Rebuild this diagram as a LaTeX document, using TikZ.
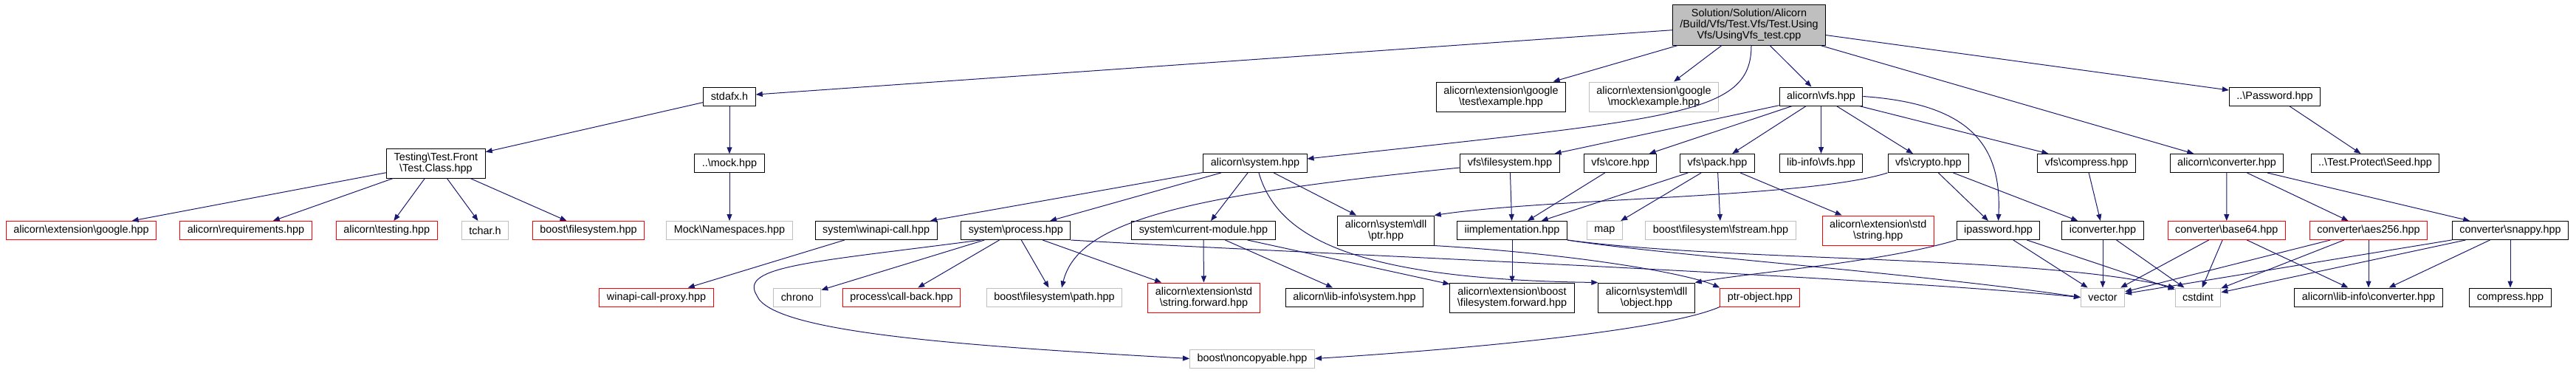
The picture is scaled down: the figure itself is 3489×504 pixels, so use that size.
\documentclass[tikz,border=0pt]{standalone}
\usepackage{fontspec}
\setmainfont{Liberation Sans}
\usetikzlibrary{arrows.meta}
\definecolor{edgeblue}{HTML}{191970}
\definecolor{boxgray}{HTML}{BFBFBF}
\newcommand{\bsl}{\textbackslash}
\tikzset{
  hdr/.style ={draw=black,line width=1pt,inner xsep=10pt,inner ysep=2pt,minimum height=25pt,
               align=center,font=\fontsize{14.4}{15}\selectfont},
  sys/.style ={hdr,draw=boxgray},
  cut/.style ={hdr,draw=red},
  src/.style ={hdr,fill=boxgray,minimum height=55pt},
  tall/.style={minimum height=40pt},
  inc/.style ={draw=edgeblue,line width=1pt,-{Triangle[length=9pt,width=7pt]}},
}

\begin{document}
\begin{tikzpicture}[x=1pt,y=-1pt]
  \useasboundingbox (0,0) rectangle (3489,504);

  \node[src] (root) at (2369,33.5) {Solution/Solution/Alicorn\\/Build/Vfs/Test.Vfs/Test.Using\\Vfs/UsingVfs\_test.cpp};

  \node[hdr] (stdafx) at (988,130.5) {stdafx.h};
  \node[hdr,tall] (gtest) at (2033,131) {alicorn\bsl extension\bsl google\\\bsl test\bsl example.hpp};
  \node[sys,tall] (gmock) at (2240,131) {alicorn\bsl extension\bsl google\\\bsl mock\bsl example.hpp};
  \node[hdr] (vfs) at (2466.5,130.5) {alicorn\bsl vfs.hpp};
  \node[hdr] (pwd) at (3081,130.5) {..\bsl Password.hpp};

  \node[hdr,tall] (tclass) at (590.4,221) {Testing\bsl Test.Front\\\bsl Test.Class.hpp};
  \node[hdr] (mock) at (988,221.3) {..\bsl mock.hpp};
  \node[hdr] (system) at (1700,221) {alicorn\bsl system.hpp};
  \node[hdr] (vfsfs) at (2045,221) {vfs\bsl filesystem.hpp};
  \node[hdr] (vfscore) at (2194.6,221) {vfs\bsl core.hpp};
  \node[hdr] (vfspack) at (2326,221) {vfs\bsl pack.hpp};
  \node[hdr] (libvfs) at (2466.5,221) {lib-info\bsl vfs.hpp};
  \node[hdr] (vfscrypto) at (2611.8,221) {vfs\bsl crypto.hpp};
  \node[hdr] (vfscompr) at (2826,221) {vfs\bsl compress.hpp};
  \node[hdr] (conv) at (3016,221) {alicorn\bsl converter.hpp};
  \node[hdr] (seed) at (3217,221) {..\bsl Test.Protect\bsl Seed.hpp};

  \node[cut] (google) at (110,312) {alicorn\bsl extension\bsl google.hpp};
  \node[cut] (req) at (333,312) {alicorn\bsl requirements.hpp};
  \node[cut] (testing) at (523.8,312) {alicorn\bsl testing.hpp};
  \node[sys] (tchar) at (657,312) {tchar.h};
  \node[cut] (bfs) at (797,312) {boost\bsl filesystem.hpp};
  \node[sys] (mockns) at (988,312) {Mock\bsl Namespaces.hpp};
  \node[hdr] (winapi) at (1186.6,312) {system\bsl winapi-call.hpp};
  \node[hdr] (process) at (1375.8,312) {system\bsl process.hpp};
  \node[hdr] (curmod) at (1630,312) {system\bsl current-module.hpp};
  \node[hdr,tall] (dllptr) at (1877,312) {alicorn\bsl system\bsl dll\\\bsl ptr.hpp};
  \node[hdr] (iimpl) at (2048,312) {iimplementation.hpp};
  \node[sys] (map) at (2173.4,312) {map};
  \node[sys] (fstream) at (2330.5,312) {boost\bsl filesystem\bsl fstream.hpp};
  \node[cut,tall] (string) at (2543.7,312) {alicorn\bsl extension\bsl std\\\bsl string.hpp};
  \node[hdr] (ipwd) at (2706.5,312) {ipassword.hpp};
  \node[hdr] (iconv) at (2848,312) {iconverter.hpp};
  \node[cut] (b64) at (3015.7,312) {converter\bsl base64.hpp};
  \node[cut] (aes) at (3208,312) {converter\bsl aes256.hpp};
  \node[hdr] (snappy) at (3400,312) {converter\bsl snappy.hpp};

  \node[cut] (proxy) at (889,402.5) {winapi-call-proxy.hpp};
  \node[sys] (chrono) at (1079.8,402.5) {chrono};
  \node[cut] (callback) at (1221,402.5) {process\bsl call-back.hpp};
  \node[sys] (path) at (1428,402.5) {boost\bsl filesystem\bsl path.hpp};
  \node[cut,tall] (strfwd) at (1630.5,403) {alicorn\bsl extension\bsl std\\\bsl string.forward.hpp};
  \node[hdr] (libsys) at (1834.5,402.5) {alicorn\bsl lib-info\bsl system.hpp};
  \node[hdr,tall] (fsfwd) at (2048,403) {alicorn\bsl extension\bsl boost\\\bsl filesystem.forward.hpp};
  \node[hdr,tall] (dllobj) at (2230,403) {alicorn\bsl system\bsl dll\\\bsl object.hpp};
  \node[cut] (ptrobj) at (2383.8,402.5) {ptr-object.hpp};
  \node[sys] (vector) at (2848,402.5) {vector};
  \node[sys] (cstdint) at (2977,402.5) {cstdint};
  \node[hdr] (libconv) at (3208,402.5) {alicorn\bsl lib-info\bsl converter.hpp};
  \node[hdr] (compress) at (3400,402.5) {compress.hpp};

  \node[sys] (noncopy) at (1696,485.5) {boost\bsl noncopyable.hpp};

  \draw[inc] (root) -- (stdafx);
  \draw[inc] (root) -- (gtest);
  \draw[inc] (root) -- (gmock);
  \draw[inc] ([xshift=3pt]root.south) .. controls +(0,95) and +(500,-55) .. ([yshift=6pt]system.east);
  \draw[inc] (root) -- (vfs);
  \draw[inc] (root) -- (conv);
  \draw[inc] (root) -- (pwd);

  \draw[inc] (stdafx) -- (tclass);
  \draw[inc] (stdafx) -- (mock);
  \draw[inc] (mock) -- (mockns);
  \foreach \dst in {google,req,testing,tchar,bfs}
    \draw[inc] (tclass) -- (\dst);
  \draw[inc] (pwd) -- (seed);

  \foreach \dst in {winapi,process,curmod,dllptr}
    \draw[inc] (system) -- (\dst);
  \draw[inc] ([xshift=5pt]system.south) .. controls (1730,320) and (1830,378) .. (dllobj.north west);
  \draw[inc] (winapi) -- (proxy);
  \foreach \dst in {chrono,callback,path,strfwd}
    \draw[inc] (process) -- (\dst);
  \draw[inc] ([xshift=27pt]process.south west) .. controls (1100,355) and (1000,360) .. (1025,400)
    .. controls (1045,450) and (1300,468) .. (noncopy.west);
  \draw[inc] (process.south east) .. controls (1700,340) and (2500,372) .. (vector.west);
  \draw[inc] (curmod) -- (strfwd);
  \draw[inc] (curmod) -- (libsys);
  \draw[inc] (curmod) -- (fsfwd);
  \draw[inc] (dllptr.south east) .. controls (2150,345) and (2290,372) .. (ptrobj.north west);
  \draw[inc] (ptrobj.south west) .. controls (2250,450) and (1950,475) .. (noncopy.east);

  \foreach \dst in {vfsfs,vfscore,vfspack,libvfs,vfscrypto,vfscompr}
    \draw[inc] (vfs) -- (\dst);
  \draw[inc] (vfs.east) .. controls (2660,140) and (2712,190) .. (ipwd.north);
  \draw[inc] ([yshift=-6pt]vfsfs.west) .. controls (1600,265) and (1460,300) .. ([xshift=10pt]path.north);
  \draw[inc] (vfsfs) -- (iimpl);
  \draw[inc] (vfscore) -- (iimpl);
  \foreach \dst in {iimpl,map,fstream,string}
    \draw[inc] (vfspack) -- (\dst);
  \draw[inc] (vfscrypto.south west) .. controls (2450,268) and (2100,268) .. (dllptr.north east);
  \draw[inc] (vfscrypto) -- (ipwd);
  \draw[inc] (vfscrypto) -- (iconv);
  \draw[inc] (vfscompr) -- (iconv);

  \draw[inc] (iimpl) -- (fsfwd);
  \draw[inc] (iimpl.south east) .. controls (2250,345) and (2600,370) .. (vector.west);
  \draw[inc] (iimpl.south east) .. controls (2350,355) and (2750,345) .. (cstdint.north west);
  \draw[inc] (ipwd.south west) .. controls (2550,355) and (2380,368) .. (dllobj.north east);
  \draw[inc] (ipwd) -- (vector);
  \draw[inc] (ipwd) -- (cstdint);
  \draw[inc] (iconv) -- (vector);
  \draw[inc] (iconv) -- (cstdint);

  \foreach \dst in {b64,aes,snappy}
    \draw[inc] (conv) -- (\dst);
  \foreach \src in {b64,aes,snappy}{
    \draw[inc] (\src) -- (vector);
    \draw[inc] (\src) -- (cstdint);
    \draw[inc] (\src) -- (libconv);
  }
  \draw[inc] (snappy) -- (compress);
\end{tikzpicture}
\end{document}
